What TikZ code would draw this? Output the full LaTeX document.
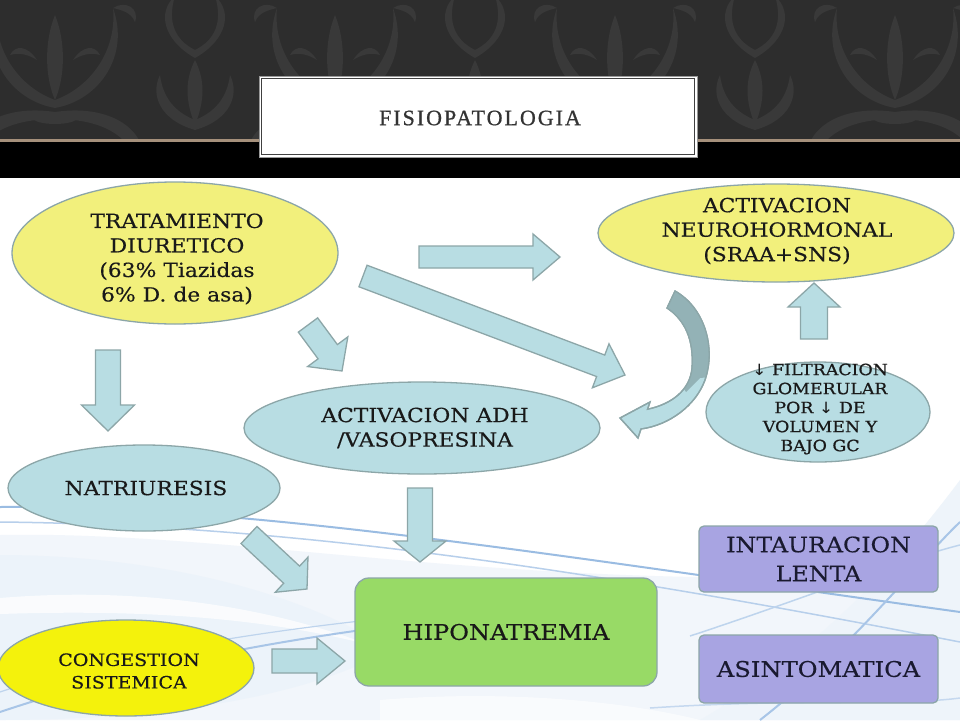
\documentclass[tikz,border=0pt]{standalone}
\usepackage{fontspec}
\setmainfont{DejaVu Serif}[FakeStretch=1.12, FakeBold=0.35]
\newfontfamily\titlefont[LetterSpace=9, FakeBold=0.8]{Liberation Serif}
\newfontfamily\arrfont[FakeStretch=1.12]{DejaVu Sans}
\usetikzlibrary{calc,shapes.geometric}
\definecolor{lyel}{HTML}{F2F07C}
\definecolor{byel}{HTML}{F4F20C}
\definecolor{cteal}{HTML}{B8DDE3}
\definecolor{cbord}{HTML}{8CA6A8}
\definecolor{cgreen}{HTML}{98DA66}
\definecolor{clav}{HTML}{A8A4E2}
\definecolor{cblue}{HTML}{6E9FD6}
\definecolor{cdark}{HTML}{2D2D2D}
\definecolor{cdam}{HTML}{393939}
\definecolor{cdarkarr}{HTML}{93B2B6}
\definecolor{cnavy}{HTML}{1A1A30}
\tikzset{
  shp/.style={draw=cbord, line width=1.3pt},
  ell/.style={shp, ellipse, inner sep=0pt},
  txt/.style={align=center, text=black!90, font=\fontsize{19.5}{24.5}\selectfont},
  arrsty/.style={draw=cbord, fill=cteal, line width=1.3pt, line join=miter},
}
\newcommand\blockarr[5]{%
  \path ($(#2)!#5!(#1)$) coordinate (bh);
  \draw[arrsty] ($(#1)!#3!90:(#2)$) -- ($(bh)!#3!90:(#2)$) -- ($(bh)!#4!90:(#2)$) -- (#2)
     -- ($(bh)!#4!-90:(#2)$) -- ($(bh)!#3!-90:(#2)$) -- ($(#1)!#3!-90:(#2)$) -- cycle;
}
\newcommand\damaskhalf{%
  \fill[cdam] (0,108) .. controls (45,100) and (75,55) .. (58,8) .. controls (62,48) and (38,86) .. (0,100) -- cycle;
  \fill[cdam] (58,8) .. controls (70,0) and (85,8) .. (80,22) .. controls (76,12) and (66,10) .. (58,8) -- cycle;
  \fill[cdam] (0,112) .. controls (40,106) and (72,118) .. (84,140) -- (68,140) .. controls (54,126) and (30,119) .. (0,119) -- cycle;
  \fill[cdam] (140,58) .. controls (172,40) and (178,12) .. (160,-4) .. controls (168,22) and (160,40) .. (140,50) -- cycle;
  \fill[cdam] (140,130) .. controls (175,120) and (185,95) .. (175,75) .. controls (172,98) and (160,112) .. (140,120) -- cycle;
  \fill[cdam] (18,60) .. controls (28,45) and (40,45) .. (45,55) .. controls (35,52) and (26,55) .. (18,60) -- cycle;
}
\begin{document}
\begin{tikzpicture}[x=1pt,y=-1pt]
\useasboundingbox (0,0) rectangle (960,720);
% ---------- background ----------
\fill[white] (0,0) rectangle (960,720);
\fill[cdark] (0,0) rectangle (960,139);
\begin{scope}
  \clip (0,0) rectangle (960,139);
  \foreach \cx in {55,335,615,895} {
    \begin{scope}[shift={(\cx,0)}]
      \fill[cdam] (0,15) .. controls (12,45) and (9,80) .. (0,100) .. controls (-9,80) and (-12,45) .. (0,15);
      \fill[cdam] (0,118) ellipse (22 and 6);
      \damaskhalf
      \begin{scope}[xscale=-1] \damaskhalf \end{scope}
      \fill[cdam] (140,60) .. controls (150,80) and (150,100) .. (140,125) .. controls (130,100) and (130,80) .. (140,60);
    \end{scope}
  }
\end{scope}
\fill[black!45!brown!60!white] (0,139) rectangle (960,141.5);
\fill[black] (0,141.5) rectangle (960,178);
\begin{scope}
  \clip (0,178) rectangle (960,720);
  \fill[cblue!9] (0,535) .. controls (250,530) and (550,600) .. (960,570) -- (960,720) -- (0,720) -- cycle;
  \fill[cblue!13] (0,555) .. controls (150,555) and (300,590) .. (390,650) .. controls (300,700) and (150,720) .. (0,720) -- cycle;
  \fill[cblue!12] (700,720) .. controls (820,650) and (900,560) .. (960,480) -- (960,720) -- cycle;
  \fill[white, opacity=0.75] (0,598) .. controls (120,588) and (250,600) .. (370,645) .. controls (250,614) and (120,610) .. (0,614) -- cycle;
  \fill[white, opacity=0.6] (380,700) .. controls (500,690) and (620,700) .. (700,720) -- (380,720) -- cycle;
  \draw[cblue!70, line width=2pt] (0,507) .. controls (250,505) and (550,555) .. (960,612);
  \draw[cblue!50, line width=1.5pt] (0,522) .. controls (300,525) and (600,572) .. (960,642);
  \draw[cblue!60, line width=2pt] (0,712) .. controls (150,662) and (300,632) .. (560,607);
  \draw[cblue!45, line width=1.2pt] (0,692) .. controls (120,652) and (280,627) .. (450,612);
  \draw[cblue!60, line width=2pt] (760,720) .. controls (850,650) and (920,560) .. (960,522);
  \draw[cblue!45, line width=1.5pt] (690,636) .. controls (800,600) and (900,560) .. (960,545);
  \draw[cblue!40, line width=1.5pt] (650,708) .. controls (800,698) and (900,706) .. (960,698);
\end{scope}
% ---------- title ----------
\node[draw=black!40, fill=white, line width=0.8pt, minimum width=438pt, minimum height=81pt, inner sep=0pt] (title) at (478,116.5) {};
\draw[black!75, line width=0.8pt] ($(title.north west)+(3,3)$) rectangle ($(title.south east)+(-3,-3)$);
\node[text=black!80, font=\titlefont\fontsize{22}{24}\selectfont] (titleT) at (480,118) {FISIOPATOLOGIA};
% ---------- nodes ----------
\node[ell, fill=lyel, minimum width=326pt, minimum height=142pt] (trat) at (175,253) {};
\node[txt] (tratT) at (177,259) {TRATAMIENTO\\DIURETICO\\(63\% Tiazidas\\6\% D. de asa)};
\node[ell, fill=lyel, minimum width=356pt, minimum height=98pt] (neuro) at (776,233) {};
\node[txt] (neuroT) at (777,231) {ACTIVACION\\NEUROHORMONAL\\(SRAA+SNS)};
\node[ell, fill=cteal, minimum width=356pt, minimum height=92pt] (adh) at (422,428) {};
\node[txt] (adhT) at (425,428) {ACTIVACION ADH\\/VASOPRESINA};
\node[ell, fill=cteal, minimum width=272pt, minimum height=86pt] (natr) at (144,488) {};
\node[txt] (natrT) at (146,488) {NATRIURESIS};
\node[ell, fill=cteal, minimum width=224pt, minimum height=100pt] (filt) at (818,412) {};
\node[txt, font=\fontsize{15.5}{19}\selectfont\addfontfeature{FakeBold=0.8}] (filtT) at (820,409) {{\arrfont ↓} FILTRACION\\GLOMERULAR\\POR {\arrfont ↓} DE\\VOLUMEN Y\\BAJO GC};
\node[ell, fill=byel, minimum width=256pt, minimum height=96pt] (cong) at (126,668) {};
\node[txt, font=\fontsize{17}{22.5}\selectfont] (congT) at (129,671) {CONGESTION\\SISTEMICA};
\node[shp, fill=cgreen, rounded corners=14pt, minimum width=302pt, minimum height=108pt, txt, font=\fontsize{21.5}{28}\selectfont] (hipo) at (506,632) {HIPONATREMIA};
\node[shp, fill=clav, rounded corners=5pt, minimum width=239pt, minimum height=66pt, txt, text=cnavy, font=\fontsize{21.2}{29}\selectfont] (intau) at (818.5,559) {INTAURACION\\LENTA};
\node[shp, fill=clav, rounded corners=5pt, minimum width=239pt, minimum height=68pt, txt, text=cnavy, font=\fontsize{21.6}{28}\selectfont] (asin) at (818.5,669) {ASINTOMATICA};
% ---------- arrow end points ----------
\coordinate (a1t) at (419,257); \coordinate (a1h) at (560,257);
\coordinate (a2t) at (363,276); \coordinate (a2h) at (625,375);
\coordinate (a3t) at (308,325); \coordinate (a3h) at (342,371);
\coordinate (a4t) at (108,350); \coordinate (a4h) at (108,431);
\coordinate (a5t) at (420,488); \coordinate (a5h) at (420,562);
\coordinate (a6t) at (249,535); \coordinate (a6h) at (307,589);
\coordinate (a7t) at (272,661); \coordinate (a7h) at (345,661);
\coordinate (a8t) at (814,339); \coordinate (a8h) at (814,283);
% ---------- block arrows ----------
\blockarr{a1t}{a1h}{11pt}{23pt}{27pt}
\blockarr{a2t}{a2h}{11.5pt}{23.5pt}{26pt}
\blockarr{a3t}{a3h}{12pt}{25pt}{24pt}
\blockarr{a4t}{a4h}{12.5pt}{26.5pt}{26pt}
\blockarr{a5t}{a5h}{12.5pt}{26pt}{21pt}
\blockarr{a6t}{a6h}{11.7pt}{24pt}{21pt}
\blockarr{a7t}{a7h}{12pt}{23pt}{28pt}
\blockarr{a8t}{a8h}{13.5pt}{26pt}{24pt}
% ---------- curved arrow ----------
\coordinate (c1t) at (675,291); \coordinate (c1h) at (620,418);
\draw[arrsty] (c1t) .. controls (705,308) and (716,348) .. (705,380) .. controls (696,405) and (670,425) .. (641,429)
   -- (638,438) -- (c1h) -- (650,402) -- (647.6,409.2) .. controls (672,404) and (690,390) .. (692,368)
   .. controls (694,340) and (685,320) .. (667,308) -- cycle;
\begin{scope}
  \clip (655,280) -- (730,280) -- (730,375) -- (700,378) -- (686,392) -- (655,345) -- cycle;
  \fill[cdarkarr] (c1t) .. controls (705,308) and (716,348) .. (705,380) .. controls (696,405) and (670,425) .. (641,429)
   -- (638,438) -- (c1h) -- (650,402) -- (647.6,409.2) .. controls (672,404) and (690,390) .. (692,368)
   .. controls (694,340) and (685,320) .. (667,308) -- cycle;
\end{scope}
\draw[cbord, line width=1.3pt, line join=miter] (c1t) .. controls (705,308) and (716,348) .. (705,380) .. controls (696,405) and (670,425) .. (641,429)
   -- (638,438) -- (c1h) -- (650,402) -- (647.6,409.2) .. controls (672,404) and (690,390) .. (692,368)
   .. controls (694,340) and (685,320) .. (667,308) -- cycle;
\end{tikzpicture}
\end{document}
